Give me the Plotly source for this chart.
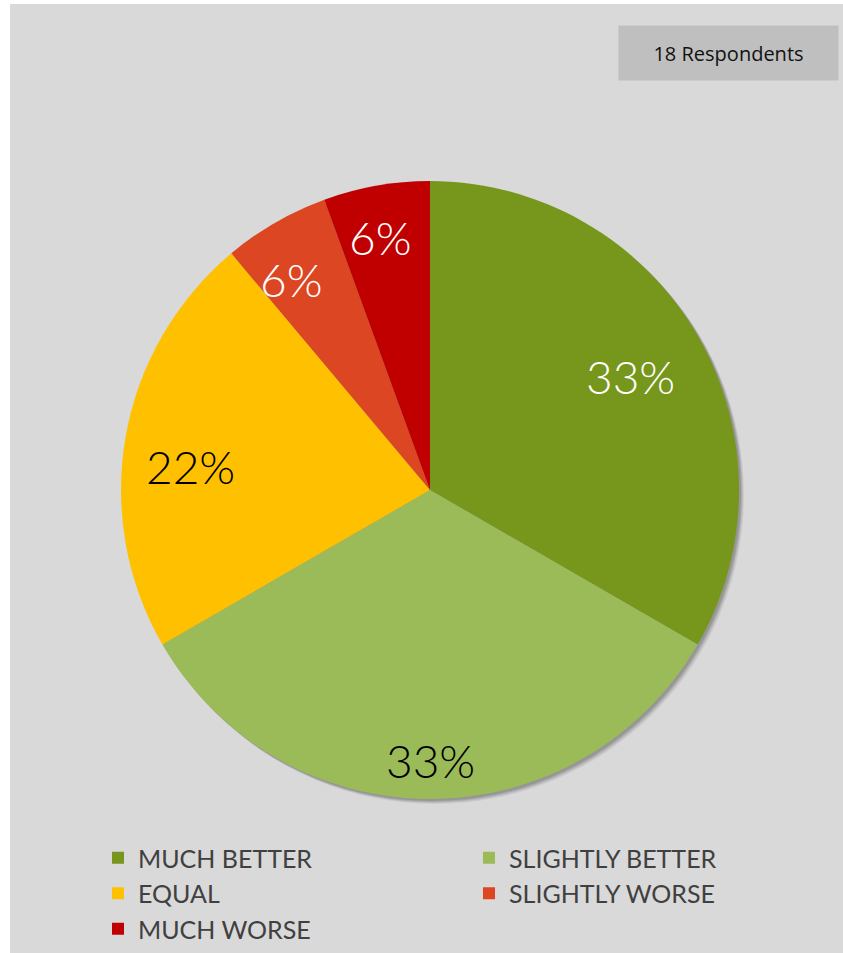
import math
import plotly.graph_objects as go

# ---- data ----
categories = ["MUCH BETTER", "SLIGHTLY BETTER", "EQUAL", "SLIGHTLY WORSE", "MUCH WORSE"]
respondents = [6, 6, 4, 1, 1]
colors = ["#76961C", "#9BBB59", "#FFC000", "#DC4623", "#C00000"]
label_colors = ["white", "black", "black", "white", "white"]
# style: label placement (radial fraction, angular nudge in degrees)
label_radius = [0.75, 0.87, 0.78, 0.82, 0.84]
label_nudge = [0, 0, -4, -3, -1]
total_text = "18 Respondents"

W, H = 843, 953
CX, CY, R = 430, 490, 309

def px_x(x):
    return x / W

def px_y(y):
    return 1 - y / H

dom_x = [px_x(CX - R), px_x(CX + R)]
dom_y = [px_y(CY + R), px_y(CY - R)]

fig = go.Figure()

# soft shadow
for off, alpha in [(5, 0.06), (4, 0.08), (3, 0.10), (2, 0.10)]:
    fig.add_trace(go.Pie(
        values=[1], labels=["_shadow%d" % off], sort=False,
        marker=dict(colors=["rgba(0,0,0,%s)" % alpha], line=dict(width=0)),
        textinfo="none", hoverinfo="skip", showlegend=False,
        domain=dict(x=[px_x(CX - R + off), px_x(CX + R + off)],
                    y=[px_y(CY + R + off), px_y(CY - R + off)]),
    ))

fig.add_trace(go.Pie(
    labels=categories, values=respondents, sort=False,
    direction="clockwise", rotation=0,
    marker=dict(colors=colors, line=dict(width=0)),
    textinfo="none", hoverinfo="label+percent",
    domain=dict(x=dom_x, y=dom_y),
))

# percentage labels computed from data
total = sum(respondents)
cum = 0
annotations = []
for v, c, fr, nd in zip(respondents, label_colors, label_radius, label_nudge):
    mid = (cum + v / 2) / total * 2 * math.pi + math.radians(nd)
    cum += v
    x = CX + fr * R * math.sin(mid)
    y = CY - fr * R * math.cos(mid) + 2
    annotations.append(dict(
        x=px_x(x), y=px_y(y), xref="paper", yref="paper",
        text="%d%%" % round(v / total * 100), showarrow=False,
        font=dict(family="Lato", size=46, color=c, weight=300),
        xanchor="center", yanchor="middle",
    ))

annotations.append(dict(
    x=px_x(728.5), y=px_y(53), xref="paper", yref="paper",
    text=total_text, showarrow=False,
    font=dict(family="Open Sans", size=20, color="#111111"),
    bgcolor="#BFBFBF", width=219, height=54, borderpad=0,
    xanchor="center", yanchor="middle",
))

fig.update_layout(
    width=W, height=H,
    margin=dict(l=0, r=0, t=0, b=0),
    paper_bgcolor="#D9D9D9",
    plot_bgcolor="#D9D9D9",
    annotations=annotations,
    showlegend=True,
    legend=dict(
        orientation="h", x=px_x(98), y=px_y(835), xanchor="left", yanchor="top",
        entrywidth=326, entrywidthmode="pixels",
        font=dict(family="Lato", size=25, color="#404040"),
        bgcolor="rgba(0,0,0,0)", traceorder="normal",
    ),
    shapes=[
        dict(type="rect", xref="paper", yref="paper", x0=0, x1=px_x(10), y0=0, y1=1,
             fillcolor="white", line=dict(width=0), layer="above"),
        dict(type="rect", xref="paper", yref="paper", x0=0, x1=1, y0=px_y(4), y1=1,
             fillcolor="white", line=dict(width=0), layer="above"),
    ],
)

fig.write_html("out.html")
